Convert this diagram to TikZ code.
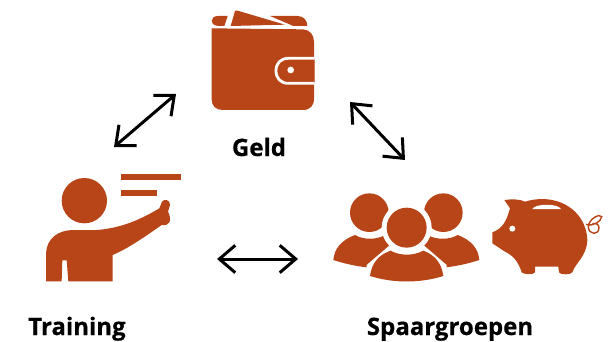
\documentclass[tikz,border=0pt]{standalone}
\usepackage{fontspec}
\setmainfont{Open Sans}[BoldFeatures={FakeBold=0.5}]
\usepackage{xcolor}
\usetikzlibrary{arrows.meta}
\definecolor{rust}{HTML}{B84518}
\tikzset{
  icon/.style={fill=rust, draw=none},
  gap/.style={fill=white, draw=none},
  bar/.style={draw=none, fill=rust},
  link/.style={draw=black, line width=3pt, {Straight Barb[length=5.6mm,width=9.6mm]}-{Straight Barb[length=5.6mm,width=9.6mm]}},
  lab/.style={text=black, font=\bfseries\fontsize{24}{26}\selectfont, anchor=base}
}
\begin{document}
\begin{tikzpicture}[x=1pt,y=-1pt]
  \useasboundingbox (0,0) rectangle (615,342);

  % wallet
  \begin{scope}[shift={(190,0)},scale=1/3]
    \fill[icon] (113,48) -- (103,78) -- (85,78) .. controls (70,76) and (65,70) .. (65,63) .. controls (65,54) and (72,48) .. (85,48) -- cycle;
    \fill[icon] (135,33) .. controls (138,31) and (142,31) .. (146,33) -- (285,74) -- (122,78) -- cycle;
    \fill[icon] (240,48) -- (322,48) .. controls (340,48) and (352,60) .. (352,78) -- (310,78) -- cycle;
    \fill[icon] (65,85) -- (340,88) .. controls (360,90) and (372,105) .. (372,125) -- (372,295) .. controls (372,318) and (360,330) .. (338,330) -- (98,330) .. controls (78,330) and (65,318) .. (65,298) -- cycle;
    \draw[white, line width=2.8pt, fill=rust] (374,175) -- (295,175) .. controls (272,175) and (258,190) .. (258,212) .. controls (258,235) and (272,250) .. (295,250) -- (374,250);
    \fill[white] (302,210) circle (10);
  \end{scope}

  % teacher
  \begin{scope}[shift={(30,165)},scale=1/3]
    \fill[icon] (163,107) circle (68);
    \fill[bar] (272,28) rectangle (453,45);
    \fill[bar] (272,75) rectangle (380,92);
    \fill[icon] (48,349) -- (48,265) .. controls (50,220) and (85,195) .. (130,195) -- (200,195) .. controls (270,190) and (330,165) .. (388,130) -- (396,110) .. controls (402,100) and (422,105) .. (420,120) -- (414,140) .. controls (420,150) and (422,165) .. (418,172) .. controls (414,180) and (405,182) .. (395,180) .. controls (345,215) and (295,250) .. (248,270) -- (248,349) -- (115,349) -- (110,286) -- (97,286) -- (95,349) -- cycle;
  \end{scope}

  % group
  \begin{scope}[shift={(325,180)},scale=1/3]
    \fill[icon] (133,98) circle (58);
    \fill[icon] (355,98) circle (58);
    \fill[icon] (25,240) .. controls (28,205) and (50,180) .. (90,165) .. controls (115,180) and (155,180) .. (180,165) -- (195,200) -- (125,262) .. controls (90,258) and (55,250) .. (25,240) -- cycle;
    \fill[icon] (463,240) .. controls (460,205) and (438,180) .. (398,165) .. controls (373,180) and (333,180) .. (308,165) -- (293,200) -- (363,262) .. controls (398,258) and (433,250) .. (463,240) -- cycle;
    \fill[gap] (245,143) circle (75);
    \fill[gap] (125,300) -- (125,255) -- (195,195) -- (295,195) -- (365,255) -- (365,300) -- cycle;
    \fill[icon] (245,143) circle (60);
    \fill[icon] (135,288) .. controls (140,250) and (160,225) .. (197,212) .. controls (225,228) and (265,228) .. (295,212) .. controls (330,225) and (350,250) .. (355,288) .. controls (285,310) and (205,310) .. (135,288) -- cycle;
  \end{scope}

  % pig
  \begin{scope}[shift={(485,185)},scale=1/3]
    \draw[rust, line width=1.4pt] (303,118) .. controls (325,125) and (348,110) .. (350,95) .. controls (345,85) and (312,100) .. (310,125) .. controls (310,150) and (342,152) .. (342,128) .. controls (342,118) and (332,114) .. (322,116);
    \fill[icon] (22,142) -- (22,175) -- (60,200) .. controls (85,212) and (100,230) .. (110,262) .. controls (112,268) and (148,270) .. (150,262) -- (150,245) -- (220,245) -- (222,262) .. controls (225,270) and (258,270) .. (262,262) .. controls (270,235) and (305,215) .. (307,165) .. controls (305,100) and (255,45) .. (175,42) .. controls (155,42) and (135,45) .. (120,50) .. controls (105,42) and (80,42) .. (58,45) -- (75,70) .. controls (65,105) and (55,130) .. (22,142) -- cycle;
    \fill[white] (82,131) circle (9);
    \fill[white] (142,72) .. controls (150,55) and (220,55) .. (228,72) -- cycle;
  \end{scope}

  % arrows
  \coordinate (geldL) at (176,94);
  \coordinate (geldR) at (350,102);
  \coordinate (trainT) at (114,147);
  \coordinate (trainR) at (217,259);
  \coordinate (spaarT) at (405,160);
  \coordinate (spaarL) at (298,259);
  \draw[link] (trainT) -- (geldL);
  \draw[link] (geldR) -- (spaarT);
  \draw[link] (trainR) -- (spaarL);

  % labels
  \node[lab] (geld) at (259,156) {Geld};
  \node[lab] (training) at (77,335) {Training};
  \node[lab] (spaargroepen) at (450,335) {Spaargroepen};
\end{tikzpicture}
\end{document}
